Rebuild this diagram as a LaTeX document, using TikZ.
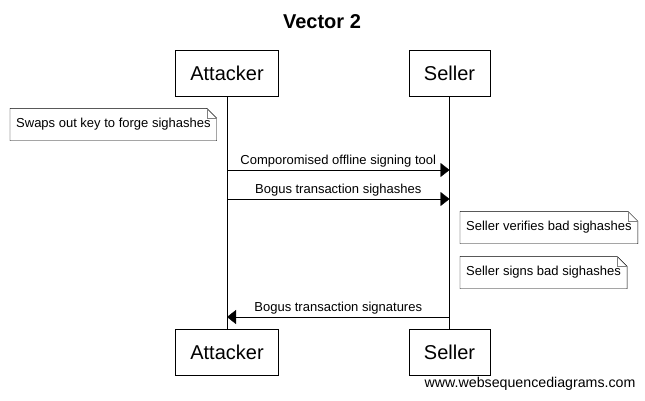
\documentclass[tikz,border=0pt]{standalone}
\usepackage{fontspec}
\setmainfont{Liberation Sans}
\usetikzlibrary{arrows.meta}
\begin{document}
\begin{tikzpicture}[x=1pt,y=-1pt]
	\tikzstyle{actor}=[draw=black,minimum height=46pt,font=\fontsize{20}{24}\selectfont]
	\tikzstyle{note}=[anchor=west,minimum height=32pt,inner xsep=6pt,font=\fontsize{13}{15}\selectfont]
	\tikzstyle{msg}=[-{Triangle[length=9pt,width=14pt]}]
	\tikzstyle{msglabel}=[above,inner sep=2.5pt,font=\fontsize{13}{15}\selectfont]
	\useasboundingbox (0,0) rectangle (645,400);
	\node[font=\bfseries\fontsize{20}{24}\selectfont](title) at (322,22) {Vector 2};
	\node[actor,minimum width=103pt](att) at (227,73) {Attacker};
	\node[actor,minimum width=81pt](sel) at (449.5,73) {Seller};
	\node[actor,minimum width=103pt](attb) at (227,352.5) {Attacker};
	\node[actor,minimum width=81pt](selb) at (449.5,352.5) {Seller};
	\draw(att) -- (attb);
	\draw(sel) -- (selb);
	% notes
	\node[note](n1) at (10,124.5) {Swaps out key to forge sighashes};
	\node[note](n2) at (460,227.5) {Seller verifies bad sighashes};
	\node[note](n3) at (460,272.5) {Seller signs bad sighashes};
	\foreach \n in {n1,n2,n3}{
		\draw(\n.south west) -- (\n.north west) -- ([xshift=-10pt]\n.north east) -- ([yshift=-10pt]\n.north east) -- (\n.south east) -- cycle;
		\draw[gray]([xshift=-10pt]\n.north east) |- ([yshift=-10pt]\n.north east);
	}
	% messages
	\coordinate(m1a) at (att |- 0,170);
	\coordinate(m1b) at (sel |- 0,170);
	\coordinate(m2a) at (att |- 0,199);
	\coordinate(m2b) at (sel |- 0,199);
	\coordinate(m3a) at (att |- 0,317);
	\coordinate(m3b) at (sel |- 0,317);
	\draw[msg](m1a) -- (m1b) node[midway,msglabel] {Comporomised offline signing tool};
	\draw[msg](m2a) -- (m2b) node[midway,msglabel] {Bogus transaction sighashes};
	\draw[msg](m3b) -- (m3a) node[midway,msglabel] {Bogus transaction signatures};
	\node[anchor=east,font=\fontsize{14.2}{17}\selectfont](wsd) at (639,384) {www.websequencediagrams.com};
\end{tikzpicture}
\end{document}
